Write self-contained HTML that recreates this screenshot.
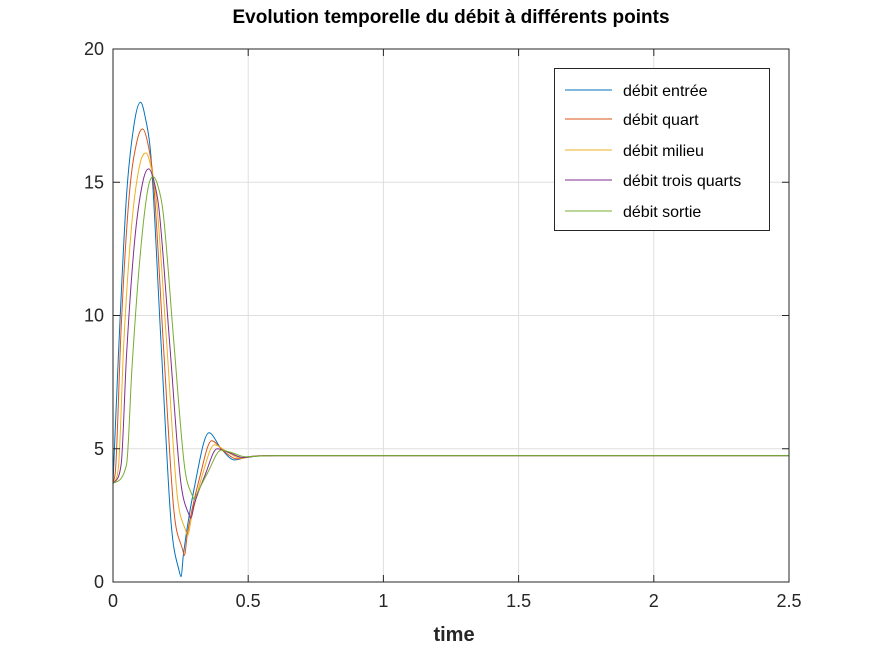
<!DOCTYPE html>
<html><head><meta charset="utf-8"><style>
body{margin:0;background:#fff;font-family:"Liberation Sans",sans-serif}
text{font-family:"Liberation Sans",sans-serif}
</style></head><body>
<svg id="c" width="872" height="654" xmlns="http://www.w3.org/2000/svg">
<rect width="872" height="654" fill="#fff"/>
</svg>
<script>
const xTicks=[0,0.5,1,1.5,2,2.5];
const xTickLabels=["0","0.5","1","1.5","2","2.5"];
const yTicks=[0,5,10,15,20];
const yTickLabels=["0","5","10","15","20"];
const seriesNames=["débit entrée","débit quart","débit milieu","débit trois quarts","débit sortie"];
const seriesColors=["#0072bd","#d95319","#edb120","#7e2f8e","#77ac30"];
const tEntree=[0,0.02,0.05,0.08,0.102,0.12,0.14,0.177,0.215,0.245,0.252,0.26,0.3,0.355,0.4,0.45,0.5,0.6,2.5];
const vEntree=[3.7,8.5,14.5,17.3,18.0,17.4,16.0,9.1,2.2,0.4,0.2,1.0,3.5,5.6,5.0,4.58,4.70,4.74,4.74];
const tQuart=[0,0.01,0.03,0.06,0.09,0.11,0.13,0.15,0.187,0.225,0.258,0.264,0.275,0.32,0.365,0.41,0.46,0.52,0.6,2.5];
const vQuart=[3.7,4.3,9.5,14.5,16.6,17.0,16.4,15.0,8.8,2.7,1.2,1.0,1.8,3.9,5.3,4.9,4.62,4.72,4.74,4.74];
const tMilieu=[0,0.02,0.04,0.07,0.1,0.122,0.14,0.16,0.199,0.237,0.27,0.276,0.29,0.33,0.375,0.42,0.47,0.53,0.6,2.5];
const vMilieu=[3.7,4.3,9.0,13.5,15.7,16.1,15.6,14.4,8.9,3.3,1.9,1.75,2.4,4.0,5.15,4.9,4.65,4.72,4.74,4.74];
const tTrois=[0,0.03,0.05,0.08,0.11,0.132,0.15,0.17,0.21,0.25,0.282,0.288,0.3,0.34,0.385,0.43,0.48,0.54,0.6,2.5];
const vTrois=[3.7,4.4,8.5,12.8,15.0,15.5,15.1,14.0,8.9,3.8,2.5,2.4,2.9,4.0,5.0,4.85,4.67,4.73,4.74,4.74];
const tSortie=[0,0.05,0.07,0.1,0.13,0.149,0.165,0.185,0.225,0.265,0.295,0.3,0.31,0.35,0.4,0.44,0.49,0.55,0.6,2.5];
const vSortie=[3.7,4.4,8.0,12.2,14.8,15.2,14.9,13.9,9.0,4.3,3.2,3.1,3.3,4.1,4.95,4.85,4.7,4.73,4.74,4.74];
const allT=[tEntree,tQuart,tMilieu,tTrois,tSortie];
const allV=[vEntree,vQuart,vMilieu,vTrois,vSortie];
const L=113,R=789,T=49,B=582;
const sx=t=>L+(t-0)/(2.5-0)*(R-L);
const sy=v=>B-(v-0)/(20-0)*(B-T);
const svg=document.getElementById('c');
const NS="http://www.w3.org/2000/svg";
function mk(tag,attrs,parent){const e=document.createElementNS(NS,tag);for(const k in attrs)e.setAttribute(k,attrs[k]);(parent||svg).appendChild(e);return e;}
function monotone(xs,ys){
 const n=xs.length,d=[],m=[];
 for(let i=0;i<n-1;i++)d.push((ys[i+1]-ys[i])/(xs[i+1]-xs[i]));
 m[0]=d[0];m[n-1]=d[n-2];
 for(let i=1;i<n-1;i++){m[i]=(d[i-1]*d[i]<=0)?0:(d[i-1]+d[i])/2;}
 for(let i=0;i<n-1;i++){if(d[i]===0){m[i]=0;m[i+1]=0;continue;}
  const a=m[i]/d[i],b=m[i+1]/d[i],s=a*a+b*b;if(s>9){const tt=3/Math.sqrt(s);m[i]=tt*a*d[i];m[i+1]=tt*b*d[i];}}
 let path='M'+sx(xs[0]).toFixed(2)+' '+sy(ys[0]).toFixed(2);
 for(let i=0;i<n-1;i++){const h=xs[i+1]-xs[i];
  path+=' C'+sx(xs[i]+h/3).toFixed(2)+' '+sy(ys[i]+m[i]*h/3).toFixed(2)+' '+sx(xs[i+1]-h/3).toFixed(2)+' '+sy(ys[i+1]-m[i+1]*h/3).toFixed(2)+' '+sx(xs[i+1]).toFixed(2)+' '+sy(ys[i+1]).toFixed(2);}
 return path;
}
xTicks.forEach((t,i)=>{
 const g=mk('line',{x1:sx(t),x2:sx(t),y1:T,y2:B,stroke:'#dfdfdf','stroke-width':1});
 
 
});
yTicks.forEach((v,i)=>{
 const g=mk('line',{x1:L,x2:R,y1:sy(v),y2:sy(v),stroke:'#dfdfdf','stroke-width':1});
 
 
});
allT.forEach((ts,si)=>{
 const p=mk('path',{d:monotone(ts,allV[si]),fill:'none',stroke:seriesColors[si],'stroke-width':1,'stroke-linejoin':'round'});
 
 
});
const fr=mk('rect',{x:L,y:T,width:R-L,height:B-T,fill:'none',stroke:'#262626','stroke-width':1});


xTicks.forEach((t,i)=>{
 mk('line',{x1:sx(t),x2:sx(t),y1:B,y2:B-7,stroke:'#262626'});
 mk('line',{x1:sx(t),x2:sx(t),y1:T,y2:T+7,stroke:'#262626'});
 const tx=mk('text',{x:sx(t),y:B+25,'text-anchor':'middle','font-size':18,fill:'#262626'});
 tx.textContent=xTickLabels[i];
 
 
});
yTicks.forEach((v,i)=>{
 mk('line',{x1:L,x2:L+7,y1:sy(v),y2:sy(v),stroke:'#262626'});
 mk('line',{x1:R,x2:R-7,y1:sy(v),y2:sy(v),stroke:'#262626'});
 const tx=mk('text',{x:L-9,y:sy(v)+6,'text-anchor':'end','font-size':18,fill:'#262626'});
 tx.textContent=yTickLabels[i];
 
 
});
const ti=mk('text',{x:451,y:23,'text-anchor':'middle','font-size':19,'font-weight':'bold',fill:'#000'});
ti.textContent='Evolution temporelle du débit à différents points';


const xl=mk('text',{x:454,y:641,'text-anchor':'middle','font-size':20,'font-weight':'bold',fill:'#262626'});
xl.textContent='time';


const lg=mk('g',{});


mk('rect',{x:554.5,y:68.5,width:215,height:162,fill:'#fff',stroke:'#262626'},lg);
const ly=[90,119,150,180,211];
seriesNames.forEach((n,i)=>{
 const e=mk('g',{},lg);
 
 
 mk('line',{x1:565,x2:612,y1:ly[i],y2:ly[i],stroke:seriesColors[i]},e);
 const t=mk('text',{x:623,y:ly[i]+6,'font-size':16,fill:'#000'},e);
 t.textContent=n;
});
</script>
</body></html>
